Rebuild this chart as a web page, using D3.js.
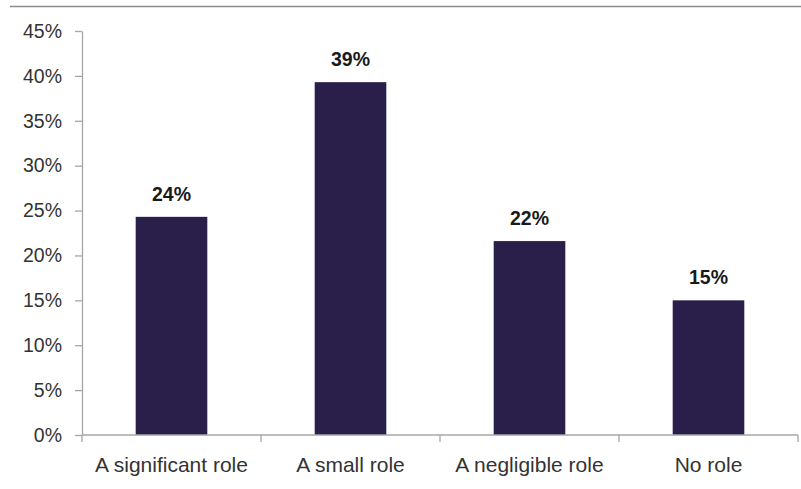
<!DOCTYPE html>
<html>
<head>
<meta charset="utf-8">
<script src="https://cdn.jsdelivr.net/npm/d3@7"></script>
<style>
  html, body { margin: 0; padding: 0; background: #fff; }
  svg { display: block; }
</style>
</head>
<body>
<svg id="chart" width="801" height="489"></svg>
<script>
// Share of respondents by role
const categories = ["A significant role", "A small role", "A negligible role", "No role"];
const values = [0.243, 0.393, 0.216, 0.150];
const yTicks = [0, 0.05, 0.10, 0.15, 0.20, 0.25, 0.30, 0.35, 0.40, 0.45];

const svg = d3.select("#chart");
const W = 801, H = 489;
const margin = { left: 82, right: 3, top: 31, bottom: 54 };
const FONT = "Liberation Sans, Arial, sans-serif";

// frame line across the top
svg.append("line")
  .attr("x1", 10).attr("x2", W)
  .attr("y1", 6.5).attr("y2", 6.5)
  .attr("stroke", "#8c8c8c").attr("stroke-width", 1.5);

const x = d3.scaleBand()
  .domain(categories)
  .range([margin.left, W - margin.right])
  .padding(0);

const y = d3.scaleLinear()
  .domain([0, 0.45])
  .range([H - margin.bottom, margin.top]);

const fmt = d3.format(".0%");
const barW = x.bandwidth() * 0.4;

// bars
svg.append("g").selectAll("rect")
  .data(categories)
  .join("rect")
  .attr("x", (d) => x(d) + (x.bandwidth() - barW) / 2)
  .attr("width", barW)
  .attr("y", (d, i) => y(values[i]))
  .attr("height", (d, i) => y(0) - y(values[i]))
  .attr("fill", "#2a1f4b");

// value labels
svg.append("g").selectAll("text")
  .data(categories)
  .join("text")
  .attr("x", (d) => x(d) + x.bandwidth() / 2)
  .attr("y", (d, i) => y(values[i]) - 16)
  .attr("text-anchor", "middle")
  .attr("font-family", FONT)
  .attr("font-weight", "bold")
  .attr("font-size", 19.5)
  .attr("fill", "#1a1a1a")
  .text((d, i) => fmt(values[i]));

// y axis
const yAxis = svg.append("g")
  .attr("transform", `translate(${margin.left},0)`)
  .call(d3.axisLeft(y).tickValues(yTicks).tickFormat(fmt).tickSize(7).tickPadding(13).tickSizeOuter(0));
yAxis.select(".domain").attr("stroke", "#a6a6a6").attr("stroke-width", 1.3);
yAxis.selectAll(".tick line").attr("stroke", "#a6a6a6").attr("stroke-width", 1.3);
yAxis.selectAll(".tick text")
  .attr("font-family", FONT)
  .attr("font-size", 19.5)
  .attr("fill", "#333333");

// x axis with ticks at category boundaries
const xAxisG = svg.append("g")
  .attr("transform", `translate(0,${y(0)})`);
xAxisG.append("line")
  .attr("x1", margin.left).attr("x2", W - margin.right)
  .attr("stroke", "#a6a6a6").attr("stroke-width", 1.3);
const bounds = categories.map((d) => x(d)).concat([x(categories[categories.length - 1]) + x.bandwidth()]);
xAxisG.selectAll("line.b")
  .data(bounds)
  .join("line")
  .attr("class", "b")
  .attr("x1", (d) => d).attr("x2", (d) => d)
  .attr("y1", 0).attr("y2", 7)
  .attr("stroke", "#a6a6a6").attr("stroke-width", 1.3);
xAxisG.selectAll("text")
  .data(categories)
  .join("text")
  .attr("x", (d) => x(d) + x.bandwidth() / 2)
  .attr("y", 37)
  .attr("text-anchor", "middle")
  .attr("font-family", FONT)
  .attr("font-size", 21)
  .attr("fill", "#333333")
  .text((d) => d);
</script>
</body>
</html>
